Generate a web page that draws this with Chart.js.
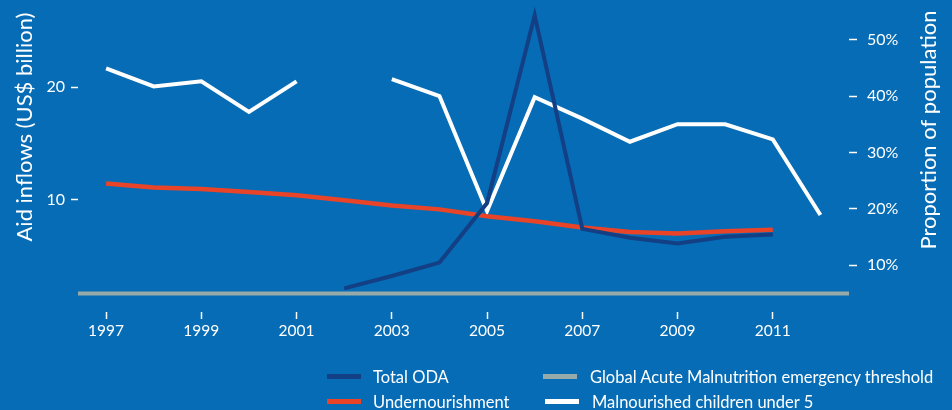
<!DOCTYPE html>
<html>
<head>
<meta charset="utf-8">
<script src="https://cdn.jsdelivr.net/npm/chart.js@4/dist/chart.umd.min.js"></script>
<style>
  html, body { margin: 0; padding: 0; background: #066cb5; }
  #wrap { position: relative; width: 952px; height: 410px; overflow: hidden; }
  #legend { position: absolute; left: 0; top: 0; width: 952px; height: 410px; pointer-events: none;
            font-family: Lato, sans-serif; font-size: 16.5px; color: #fff; }
  .swatch { position: absolute; height: 5px; }
  .label { position: absolute; height: 20px; line-height: 20px; white-space: nowrap; }
</style>
</head>
<body>
<div id="wrap">
  <canvas id="chart" width="952" height="410"></canvas>
  <div id="legend"></div>
</div>
<script>
const years = [1997, 1998, 1999, 2000, 2001, 2002, 2003, 2004, 2005, 2006, 2007, 2008, 2009, 2010, 2011, 2012]
// US$ billion, left axis
const totalOda = [null, null, null, null, null, 2.1, 3.2, 4.4, 9.7, 26.4, 7.4, 6.6, 6.1, 6.7, 6.9, null]
// % of population, right axis
const undernourishment = [24.5, 23.8, 23.5, 23.0, 22.4, 21.5, 20.6, 19.9, 18.7, 17.8, 16.7, 15.9, 15.6, 16.0, 16.3, null]
const malnourishedU5 = [44.9, 41.7, 42.6, 37.2, 42.6, null, 43.0, 40.0, 19.6, 39.8, 36.0, 31.9, 35.0, 35.0, 32.3, 18.9]
const gamThreshold = 5

const xTickYears = [1997, 1999, 2001, 2003, 2005, 2007, 2009, 2011]
const leftTicks = [10, 20]
const rightTicks = [10, 20, 30, 40, 50]

const xMin = 1996.41
const xMax = 2012.6

const toPoints = values => years.map((y, i) => ({ x: y, y: values[i] }))

const FONT = 'Lato, sans-serif'
const WHITE = '#ffffff'

// rotated axis titles, both reading bottom to top
const axisTitles = {
    id: 'axisTitles',
    afterDraw(chart) {
        const ctx = chart.ctx
        ctx.save()
        ctx.fillStyle = WHITE
        ctx.font = '22px ' + FONT
        ctx.textAlign = 'center'
        ctx.textBaseline = 'middle'
        const draw = (text, x, y) => {
            ctx.save()
            ctx.translate(x, y)
            ctx.rotate(-Math.PI / 2)
            ctx.fillText(text, 0, 0)
            ctx.restore()
        }
        draw('Aid inflows (US$ billion)', 25, 127)
        draw('Proportion of population', 929, 130)
        ctx.restore()
    }
}

const datasets = [
    {
        label: 'Total ODA',
        data: toPoints(totalOda),
        borderColor: '#133f85',
        borderWidth: 4,
        yAxisID: 'yAid',
        order: 1
    },
    {
        label: 'Global Acute Malnutrition emergency threshold',
        data: [{ x: xMin, y: gamThreshold }, { x: xMax, y: gamThreshold }],
        borderColor: '#97aaaa',
        borderWidth: 4,
        yAxisID: 'yPct',
        order: 4
    },
    {
        label: 'Undernourishment',
        data: toPoints(undernourishment),
        borderColor: '#ea4428',
        borderWidth: 4.5,
        yAxisID: 'yPct',
        order: 2
    },
    {
        label: 'Malnourished children under 5',
        data: toPoints(malnourishedU5),
        borderColor: '#ffffff',
        borderWidth: 4,
        yAxisID: 'yPct',
        order: 3
    }
]

const tickGrid = len => ({
    drawOnChartArea: false,
    tickLength: len,
    tickColor: WHITE,
    tickWidth: 1.5,
    color: WHITE
})

const tickFont = { family: FONT, size: 16 }

// fixed axis sizes, and no extra padding from the tick labels
const fixY = width => s => {
    s.width = width
    s.paddingTop = 0
    s.paddingBottom = 0
}

const chart = new Chart(document.getElementById('chart').getContext('2d'), {
    type: 'line',
    data: { datasets: datasets },
    options: {
        responsive: false,
        animation: false,
        events: [],
        layout: { padding: { top: 3 } },
        elements: {
            point: { radius: 0 },
            line: { tension: 0, borderCapStyle: 'butt', borderJoinStyle: 'miter' }
        },
        plugins: {
            legend: { display: false },
            tooltip: { enabled: false }
        },
        scales: {
            x: {
                type: 'linear',
                min: xMin,
                max: xMax,
                afterBuildTicks: s => { s.ticks = xTickYears.map(v => ({ value: v })) },
                afterFit: s => { s.height = 98; s.paddingLeft = 0; s.paddingRight = 0 },
                ticks: { color: WHITE, font: { family: FONT, size: 15.5 }, padding: 3, maxRotation: 0, callback: v => String(v) },
                grid: tickGrid(7),
                border: { display: false }
            },
            yAid: {
                position: 'left',
                min: 0,
                max: 27.5,
                afterBuildTicks: s => { s.ticks = leftTicks.map(v => ({ value: v })) },
                afterFit: fixY(78),
                ticks: { color: WHITE, font: tickFont, padding: 6 },
                grid: tickGrid(7),
                border: { display: false }
            },
            yPct: {
                position: 'right',
                min: 1.7,
                max: 56.5,
                afterBuildTicks: s => { s.ticks = rightTicks.map(v => ({ value: v })) },
                afterFit: fixY(103),
                ticks: { color: WHITE, font: tickFont, padding: 10, callback: v => v + '%' },
                grid: tickGrid(8),
                border: { display: false }
            }
        }
    },
    plugins: [axisTitles]
})

// legend in two columns, as in the original
const legendSlots = [
    { ds: 0, swatchX: 327, textX: 373, row: 0 },
    { ds: 2, swatchX: 327, textX: 373, row: 1 },
    { ds: 1, swatchX: 543, textX: 590, row: 0 },
    { ds: 3, swatchX: 545, textX: 592, row: 1 }
]
const rowSwatchY = [374, 399]
const rowTextY = [367, 391.5]
const legendEl = document.getElementById('legend')
legendSlots.forEach(slot => {
    const ds = datasets[slot.ds]
    const sw = document.createElement('div')
    sw.className = 'swatch'
    sw.style.left = slot.swatchX + 'px'
    sw.style.top = rowSwatchY[slot.row] + 'px'
    sw.style.width = '34px'
    sw.style.background = ds.borderColor
    legendEl.appendChild(sw)
    const label = document.createElement('div')
    label.className = 'label'
    label.style.left = slot.textX + 'px'
    label.style.top = rowTextY[slot.row] + 'px'
    label.textContent = ds.label
    legendEl.appendChild(label)
})
</script>
</body>
</html>
